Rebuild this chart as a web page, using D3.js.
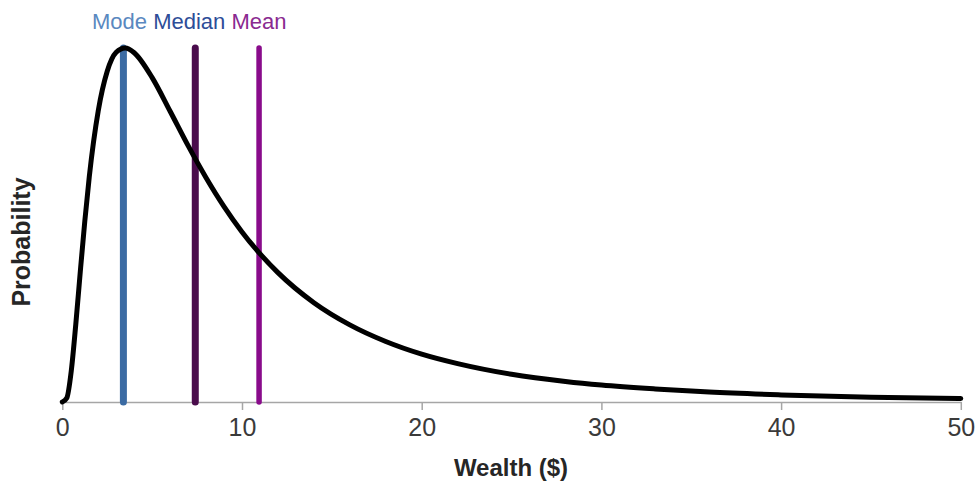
<!DOCTYPE html>
<html>
<head>
<meta charset="utf-8">
<script src="https://cdn.jsdelivr.net/npm/d3@7"></script>
<style>
  html, body { margin: 0; padding: 0; background: #ffffff; }
  svg { display: block; }
</style>
</head>
<body>
<svg id="chart" width="977" height="483"></svg>
<script>
// Wealth values ($)
const wealth = [0, 0.25, 0.5, 0.75, 1, 1.25, 1.5, 2, 2.5, 3, 3.5, 4, 5, 6, 7, 8, 9, 10, 12, 14, 16, 18, 20, 22, 25, 28, 30, 33, 36, 40, 45, 50];
// Probability density
const probability = [0, 0.0010, 0.0079, 0.0196, 0.0329, 0.0456, 0.0569, 0.0736, 0.0836, 0.0884, 0.0895, 0.0883, 0.0820, 0.0735, 0.0648, 0.0567, 0.0494, 0.0430, 0.0327, 0.0251, 0.0195, 0.0153, 0.0121, 0.0097, 0.0070, 0.0052, 0.0043, 0.0033, 0.0025, 0.0018, 0.0012, 0.0009];
// Marker lines
const markerNames = ["Mode", "Median", "Mean"];
const markerValues = [3.4, 7.4, 10.95];
const xTicks = [0, 10, 20, 30, 40, 50];

const svg = d3.select("#chart");
const x = d3.scaleLinear().domain([0, 50]).range([62.3, 960.8]);
const y = d3.scaleLinear().domain([0, 0.09]).range([402, 46]);

const lineColors = ["#3b6ba3", "#4a0c4c", "#890b8b"];
const lineWidths = [7, 7, 5.5];
const textColors = ["#5a88c0", "#2d4d98", "#8a2a90"];

// x axis
const xAxis = d3.axisBottom(x).tickValues(xTicks).tickSize(8).tickSizeOuter(0).tickPadding(8);
const gx = svg.append("g").attr("transform", "translate(0,402)").call(xAxis);
gx.select(".domain").attr("stroke", "#a6a6a6").attr("stroke-width", 1.5);
gx.selectAll(".tick line").attr("stroke", "#a6a6a6").attr("stroke-width", 1.5);
gx.selectAll(".tick text")
  .attr("fill", "#3a3a3a")
  .attr("font-family", "Liberation Sans, Arial, sans-serif")
  .attr("font-size", 25)
  .attr("dy", "0.72em");

// marker lines
const peak = d3.max(probability);
svg.append("g").selectAll("line")
  .data(markerValues)
  .join("line")
  .attr("x1", d => x(d)).attr("x2", d => x(d))
  .attr("y1", y(0)).attr("y2", y(peak))
  .attr("stroke", (d, i) => lineColors[i])
  .attr("stroke-width", (d, i) => lineWidths[i])
  .attr("stroke-linecap", "round");

// curve
const pts = wealth.map((w, i) => [w, probability[i]]);
svg.append("path")
  .datum(pts)
  .attr("fill", "none")
  .attr("stroke", "#000")
  .attr("stroke-width", 5)
  .attr("stroke-linecap", "round")
  .attr("stroke-linejoin", "round")
  .attr("d", d3.line().x(d => x(d[0])).y(d => y(d[1])).curve(d3.curveMonotoneX));

// top labels
const topLabel = svg.append("text")
  .attr("x", 92).attr("y", 29)
  .attr("font-family", "Liberation Sans, Arial, sans-serif")
  .attr("font-size", 22);
markerNames.forEach((n, i) => {
  topLabel.append("tspan")
    .attr("fill", textColors[i])
    .text((i > 0 ? " " : "") + n);
});

// axis titles
svg.append("text")
  .attr("x", 511).attr("y", 476)
  .attr("text-anchor", "middle")
  .attr("font-family", "Liberation Sans, Arial, sans-serif")
  .attr("font-weight", "bold")
  .attr("font-size", 24)
  .attr("fill", "#262626")
  .text("Wealth ($)");

svg.append("text")
  .attr("transform", "translate(30,242) rotate(-90)")
  .attr("text-anchor", "middle")
  .attr("font-family", "Liberation Sans, Arial, sans-serif")
  .attr("font-weight", "bold")
  .attr("font-size", 25)
  .attr("fill", "#262626")
  .text("Probability");
</script>
</body>
</html>
